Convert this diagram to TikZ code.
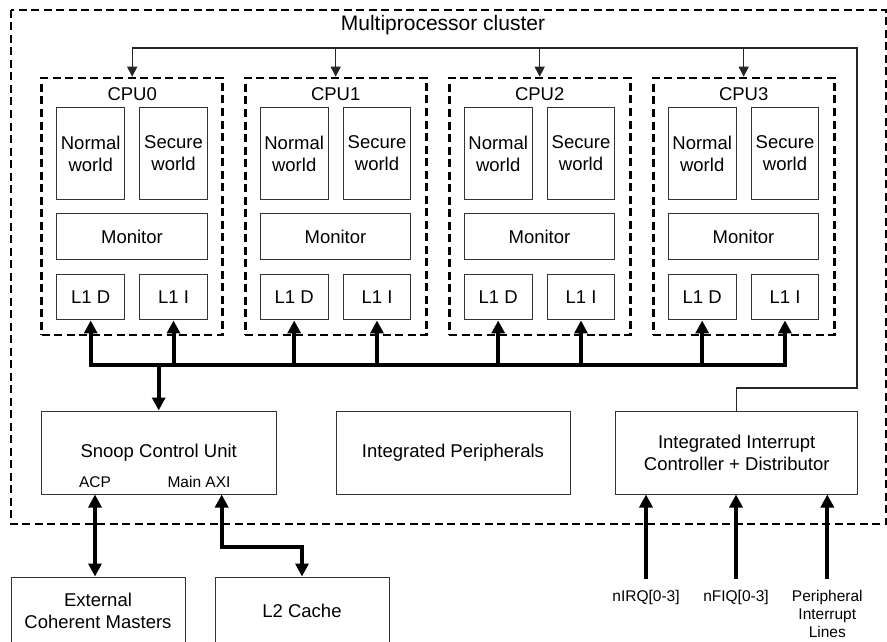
\documentclass[tikz,border=0pt]{standalone}
\usepackage{fontspec}
\setmainfont{Liberation Sans}
\usetikzlibrary{arrows.meta}

\tikzset{
  dashbox/.style={draw=black, line width=2.6pt, dash pattern=on 8pt off 4.5pt, inner sep=0pt},
  blk/.style={draw=black!80, line width=1pt, inner sep=0pt, align=center,
              font=\fontsize{18.5}{22}\selectfont},
  lbl/.style={inner sep=0pt, align=center, font=\fontsize{15.5}{18}\selectfont},
  cputxt/.style={inner sep=0pt, font=\fontsize{18.5}{22}\selectfont},
  titletxt/.style={inner sep=0pt, font=\fontsize{21}{25}\selectfont},
  ctlline/.style={draw=black!85, line width=1.3pt},
  ctlarrow/.style={ctlline, -{Triangle[width=10pt,length=10pt]}},
  busline/.style={draw=black, line width=4pt},
  busarrow/.style={busline, -{Triangle[width=13pt,length=13pt]}},
  busboth/.style={busline, {Triangle[width=13pt,length=13pt]}-{Triangle[width=13pt,length=13pt]}},
}

\begin{document}
\begin{tikzpicture}[x=1pt, y=-1pt]
\path[use as bounding box] (0,0) rectangle (887,642);

% cluster outline and title
\draw[dashbox] (11,10) rectangle (886,524);
\node[titletxt] (title) at (443,25) {Multiprocessor cluster};

% four processor cores
\foreach \i/\dx in {0/0,1/203.5,2/407.5,3/611.5}{
  \node[dashbox, minimum width=181pt, minimum height=257pt] (cpu\i) at (132.2+\dx,206.5) {};
  \node[cputxt] (cpulbl\i) at ([yshift=-17pt]cpu\i.north) {CPU\i};
  \node[blk, minimum width=68pt, minimum height=91pt] (nw\i) at (90.7+\dx,153.5) {Normal\\world};
  \node[blk, minimum width=67.6pt, minimum height=91pt] (sw\i) at (173.5+\dx,153.5) {Secure\\world};
  \node[blk, minimum width=150.6pt, minimum height=46pt] (mon\i) at (132+\dx,236.7) {Monitor};
  \node[blk, minimum width=68pt, minimum height=45.3pt] (l1d\i) at (90.7+\dx,297.3) {L1 D};
  \node[blk, minimum width=67.6pt, minimum height=45.3pt] (l1i\i) at (173.5+\dx,297.3) {L1 I};
}

% blocks below the cores
\node[blk, minimum width=234.7pt, minimum height=83pt] (scu) at (158.7,452.5) {Snoop Control Unit};
\node[lbl] (acp) at (95,481.7) {ACP};
\node[lbl] (mainaxi) at (199,481.7) {Main AXI};
\node[blk, minimum width=234pt, minimum height=83pt] (periph) at (453,452.5) {Integrated Peripherals};
\node[blk, minimum width=242pt, minimum height=83pt] (iic) at (736.7,452.5) {Integrated Interrupt\\Controller + Distributor};

% external blocks
\node[blk, minimum width=174pt, minimum height=68pt] (ext) at (98,611) {External\\Coherent Masters};
\node[blk, minimum width=174pt, minimum height=68pt] (l2) at (302,611) {L2 Cache};

% interrupt inputs
\node[lbl, anchor=north] (nirq) at (646,590) {nIRQ[0-3]};
\node[lbl, anchor=north] (nfiq) at (736,590) {nFIQ[0-3]};
\node[lbl, anchor=north] (pil) at (827.3,590) {Peripheral\\Interrupt\\Lines};

% interrupt distribution to the cores
\coordinate (topbus) at (857,48);
\coordinate (bend) at (857,388);
\draw[ctlline] (iic.north) -- (iic.north |- bend) -- (bend) -- (topbus) -- (cpu0.north |- topbus);
\foreach \i in {0,1,2,3}
  \draw[ctlarrow] (cpu\i.north |- topbus) -- (cpu\i.north);

% coherent memory bus
\coordinate (busy) at (0,365);
\draw[busline, line cap=rect] (l1d0.south |- busy) -- (l1i3.south |- busy);
\foreach \i in {0,1,2,3}{
  \draw[busarrow] (l1d\i.south |- busy) -- (l1d\i.south);
  \draw[busarrow] (l1i\i.south |- busy) -- (l1i\i.south);
}
\draw[busarrow] (scu.north |- busy) -- (scu.north);

% ACP and main AXI ports
\draw[busboth] (acp.center |- scu.south) -- (acp.center |- ext.north);
\coordinate (axi) at (221.7,494.5);
\draw[busboth] (axi) -- ++(0,52.2) -| (l2.north);

% interrupt lines into the distributor
\draw[busarrow] ([yshift=11pt]nirq.north) -- (nirq.north |- iic.south);
\draw[busarrow] ([yshift=11pt]nfiq.north) -- (nfiq.north |- iic.south);
\draw[busarrow] ([yshift=11pt]pil.north) -- (pil.north |- iic.south);
\end{tikzpicture}
\end{document}
